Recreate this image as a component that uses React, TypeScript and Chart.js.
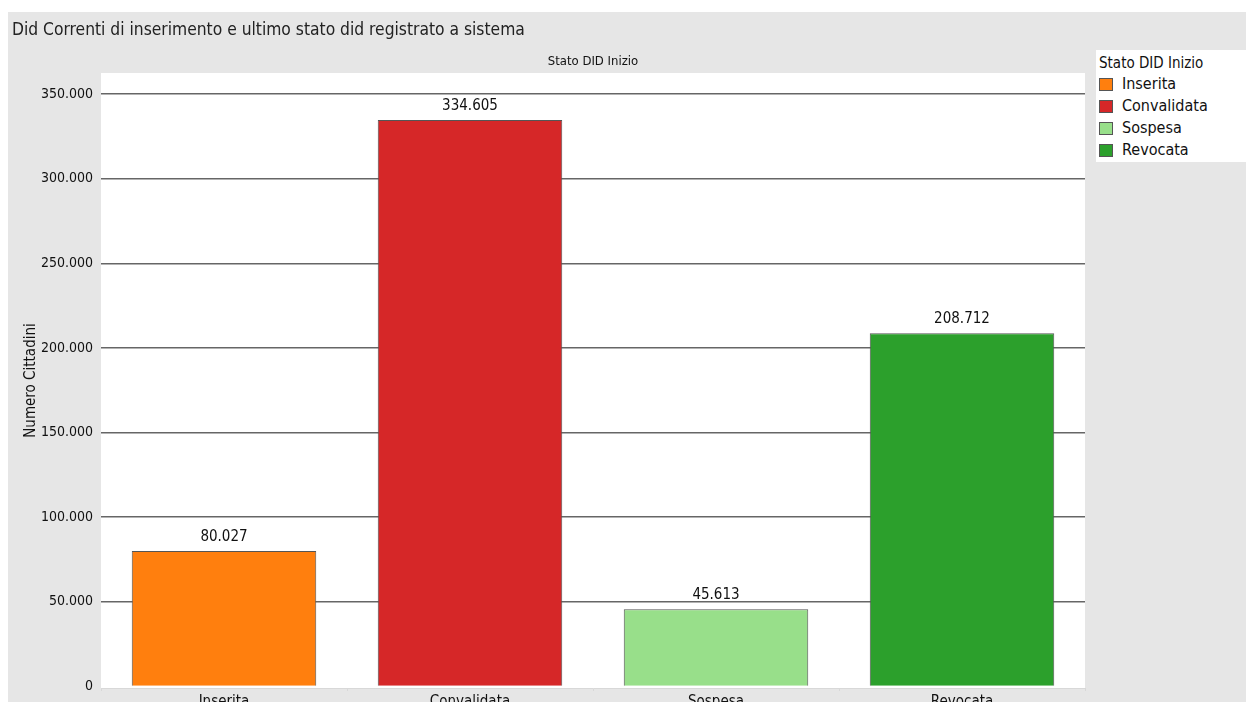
import React, { useEffect, useRef } from 'react';
import { Chart, registerables } from 'chart.js';

Chart.register(...registerables);

const categories = ['Inserita', 'Convalidata', 'Sospesa', 'Revocata'];
const values = [80027, 334605, 45613, 208712];
const barColors = ['#ff7f0e', '#d62728', '#98df8a', '#2ca02c'];
const yTickValues = [0, 50000, 100000, 150000, 200000, 250000, 300000, 350000];
const chartTitle = 'Did Correnti di inserimento e ultimo stato did registrato a sistema';
const headerTitle = 'Stato DID Inizio';
const yAxisTitle = 'Numero Cittadini';
const legendTitle = 'Stato DID Inizio';

const FONT = '"Liberation Sans Narrow", "Arial Narrow", "DejaVu Sans Condensed", sans-serif';
const TEXT = '#111111';
const fmt = (n: number) => String(n).replace(/\B(?=(\d{3})+(?!\d))/g, '.');

const W = 1246;
const H = 694;

const decor = {
  id: 'decor',
  beforeDraw(chart: any) {
    const { ctx, chartArea: a } = chart;
    ctx.save();
    ctx.fillStyle = '#ffffff';
    ctx.fillRect(a.left, a.top, a.right - a.left, a.bottom - a.top);
    ctx.fillStyle = '#222222';
    ctx.font = `17.3px ${FONT}`;
    ctx.textAlign = 'left';
    ctx.textBaseline = 'alphabetic';
    ctx.fillText(chartTitle, 4, 23);
    ctx.fillStyle = TEXT;
    ctx.font = `13px ${FONT}`;
    ctx.textAlign = 'center';
    ctx.textBaseline = 'middle';
    ctx.fillText(headerTitle, (a.left + a.right) / 2, 50);
    ctx.restore();
  },
  afterDatasetsDraw(chart: any) {
    const { ctx } = chart;
    const meta = chart.getDatasetMeta(0);
    ctx.save();
    ctx.fillStyle = TEXT;
    ctx.font = `15px ${FONT}`;
    ctx.textAlign = 'center';
    ctx.textBaseline = 'middle';
    meta.data.forEach((bar: any, i: number) => {
      ctx.fillText(fmt(values[i]), bar.x, bar.y - 14);
    });
    ctx.restore();
  },
};

export default function App() {
  const ref = useRef<HTMLCanvasElement | null>(null);

  useEffect(() => {
    if (!ref.current) return;
    const chart = new Chart(ref.current, {
      type: 'bar',
      data: {
        labels: categories,
        datasets: [
          {
            label: legendTitle,
            data: values,
            backgroundColor: barColors,
            borderColor: '#555555',
            borderWidth: 1,
            barPercentage: 0.75,
            categoryPercentage: 1,
          },
        ],
      },
      options: {
        animation: false,
        responsive: false,
        devicePixelRatio: 1,
        layout: { padding: { top: 61, right: 169, left: 0, bottom: 0 } },
        plugins: {
          legend: { display: false },
          tooltip: { enabled: false },
          title: { display: false },
        },
        scales: {
          x: {
            grid: {
              display: true,
              drawOnChartArea: false,
              drawTicks: true,
              tickLength: 3,
              color: '#d8d8d8',
            },
            border: { display: true, color: '#d8d8d8', dash: [2, 2] },
            ticks: {
              color: TEXT,
              font: { family: FONT, size: 15 },
              padding: 2,
              maxRotation: 0,
            },
            afterFit(scale: any) {
              scale.height = 18;
            },
          },
          y: {
            min: -900,
            max: 362400,
            afterBuildTicks(scale: any) {
              scale.ticks = yTickValues.map((v) => ({ value: v }));
            },
            grid: {
              drawTicks: false,
              lineWidth: 1.5,
              color: (c: any) => (c.tick && c.tick.value === 0 ? 'rgba(0,0,0,0)' : '#666666'),
            },
            border: { display: false },
            ticks: {
              color: TEXT,
              padding: 8,
              font: { family: FONT, size: 14 },
              callback: (v: any) => fmt(Number(v)),
            },
            title: {
              display: true,
              text: yAxisTitle,
              color: TEXT,
              font: { family: FONT, size: 15 },
              padding: { top: 14, bottom: 0 },
            },
            afterFit(scale: any) {
              scale.width = 93;
            },
          },
        },
      },
      plugins: [decor],
    } as any);
    return () => chart.destroy();
  }, []);

  return (
    <div
      style={{
        position: 'relative',
        top: 4,
        width: W,
        height: H,
        background: '#e6e6e6',
        overflow: 'hidden',
      }}
    >
      <canvas ref={ref} width={W} height={H} style={{ display: 'block', width: W, height: H }} />
      <div
        style={{
          position: 'absolute',
          left: 1088,
          top: 38,
          width: 158,
          height: 112,
          background: '#ffffff',
          fontFamily: FONT,
          color: TEXT,
          fontSize: 15,
        }}
      >
        <div style={{ position: 'absolute', left: 3, top: 4, lineHeight: '18px', whiteSpace: 'nowrap' }}>
          {legendTitle}
        </div>
        {categories.map((c, i) => (
          <div
            key={c}
            style={{
              position: 'absolute',
              left: 3,
              top: 25 + i * 22,
              height: 18,
              display: 'flex',
              alignItems: 'center',
              whiteSpace: 'nowrap',
            }}
          >
            <span
              style={{
                display: 'inline-block',
                width: 14,
                height: 13,
                boxSizing: 'border-box',
                background: barColors[i],
                border: '1px solid #555',
                marginRight: 9,
              }}
            />
            <span style={{ lineHeight: '18px', fontSize: 16 }}>{c}</span>
          </div>
        ))}
      </div>
    </div>
  );
}
